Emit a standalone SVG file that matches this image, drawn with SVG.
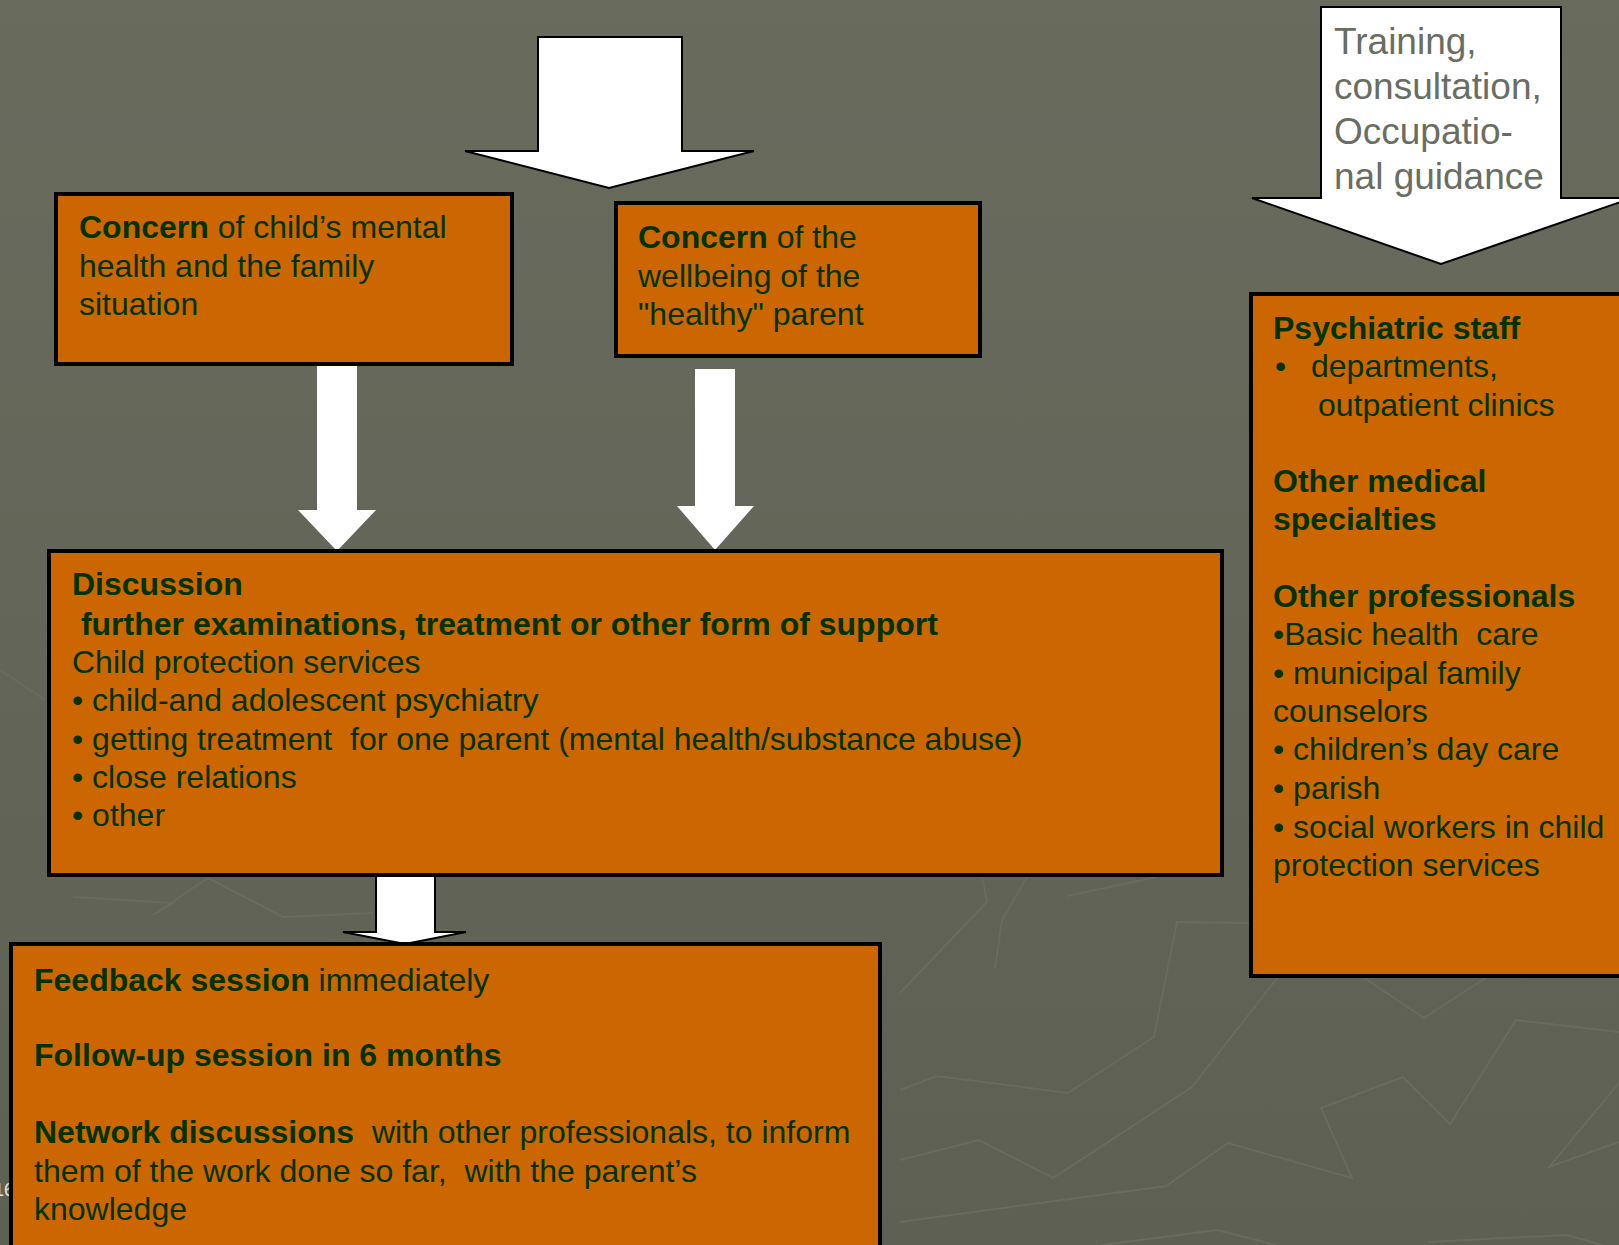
<svg xmlns="http://www.w3.org/2000/svg" width="1619" height="1245" viewBox="0 0 1619 1245">
<defs>
<linearGradient id="bg" x1="0" y1="0" x2="0" y2="1">
<stop offset="0" stop-color="#696b5d"/>
<stop offset="1" stop-color="#5d6053"/>
</linearGradient>
<style>
.box{fill:#cc6600;stroke:#000;stroke-width:4}
.t{font-family:"Liberation Sans",Arial,sans-serif;font-size:32px;fill:#003300;white-space:pre}
.b{font-weight:bold}
.arr{fill:#fff}
.arro{fill:#fff;stroke:#000;stroke-width:2;stroke-linejoin:miter}
.deco{fill:none;stroke:#686b5e;stroke-width:2}
.tr{font-family:"Liberation Sans",Arial,sans-serif;font-size:37px;fill:#6a6d62}
</style>
</defs>
<rect width="1619" height="1245" fill="url(#bg)"/>
<g id="background-lines">
<polyline class="deco" points="900,1222 1166,1186 1228,1143 1352,1178 1321,1108 1403,1077 1450,1124 1516,1020 1619,1032"/>
<polyline class="deco" points="900,1160 979,1140 1053,1178 1192,1087 1278,977"/>
<polyline class="deco" points="900,1090 937,1076 1068,1093 1154,1037 1177,922 1249,923"/>
<polyline class="deco" points="900,993 987,902 982,877"/>
<polyline class="deco" points="995,968 1002,920 1027,877"/>
<polyline class="deco" points="1067,896 1157,877"/>
<polyline class="deco" points="1363,977 1424,1018 1487,977"/>
<polyline class="deco" points="1619,1083 1549,1167 1619,1142"/>
<polyline class="deco" points="1102,1245 1217,1230 1276,1245"/>
<polyline class="deco" points="1428,1242 1567,1235 1619,1250"/>
<polyline class="deco" points="73,897 173,903 153,915 208,878 283,917 373,913"/>
<polyline class="deco" points="0,670 45,700"/>
</g>
<text x="-6" y="1196" font-family="Liberation Sans, Arial, sans-serif" font-size="18" fill="#e6e6df">16</text>
<g id="connectors">
<polygon id="arrow-top" class="arro" points="538,37 682,37 682,151 754,151 609,188 465,151 538,151"/>
<polygon id="arrow-box1" class="arr" points="317,362 357,362 357,510 376,510 337,551 298,510 317,510"/>
<polygon id="arrow-box2" class="arr" points="695,369 735,369 735,506 754,506 715,550 677,506 695,506"/>
<polygon id="arrow-discussion" class="arro" points="376,875 435,875 435,932 466,932 405,944 343,932 376,932"/>
</g>
<g id="node-training">
<polygon class="arro" points="1321,7 1561,7 1561,198 1632,198 1441,264 1252,198 1321,198"/>
<text class="tr" x="1334" y="54">Training,</text>
<text class="tr" x="1334" y="99">consultation,</text>
<text class="tr" x="1334" y="144">Occupatio-</text>
<text class="tr" x="1334" y="189">nal guidance</text>
</g>
<g id="node-concern-child">
<rect class="box" x="56" y="194" width="456" height="170"/>
<text class="t" x="79" y="238"><tspan class="b">Concern</tspan> of child’s mental</text>
<text class="t" x="79" y="277">health and the family</text>
<text class="t" x="79" y="315">situation</text>
</g>
<g id="node-concern-parent">
<rect class="box" x="616" y="203" width="364" height="153"/>
<text class="t" x="638" y="248"><tspan class="b">Concern</tspan> of the</text>
<text class="t" x="638" y="287">wellbeing of the</text>
<text class="t" x="638" y="325">"healthy" parent</text>
</g>
<g id="node-discussion">
<rect class="box" x="49" y="551" width="1173" height="324"/>
<text class="t b" x="72" y="595">Discussion</text>
<text class="t b" x="72" y="635"> further examinations, treatment or other form of support</text>
<text class="t" x="72" y="673">Child protection services</text>
<text class="t" x="72" y="711">• child-and adolescent psychiatry</text>
<text class="t" x="72" y="750">• getting treatment  for one parent (mental health/substance abuse)</text>
<text class="t" x="72" y="788">• close relations</text>
<text class="t" x="72" y="826">• other</text>
</g>
<g id="node-staff">
<rect class="box" x="1251" y="294" width="400" height="682"/>
<text class="t b" x="1273" y="339">Psychiatric staff</text>
<text class="t" x="1275" y="377">•</text>
<text class="t" x="1311" y="377">departments,</text>
<text class="t" x="1318" y="416">outpatient clinics</text>
<text class="t b" x="1273" y="492">Other medical</text>
<text class="t b" x="1273" y="530">specialties</text>
<text class="t b" x="1273" y="607">Other professionals</text>
<text class="t" x="1273" y="645">•Basic health  care</text>
<text class="t" x="1273" y="684">• municipal family</text>
<text class="t" x="1273" y="722">counselors</text>
<text class="t" x="1273" y="760">• children’s day care</text>
<text class="t" x="1273" y="799">• parish</text>
<text class="t" x="1273" y="838">• social workers in child</text>
<text class="t" x="1273" y="876">protection services</text>
</g>
<g id="node-feedback">
<rect class="box" x="11" y="944" width="869" height="320"/>
<text class="t" x="34" y="991"><tspan class="b">Feedback session</tspan> immediately</text>
<text class="t b" x="34" y="1066">Follow-up session in 6 months</text>
<text class="t" x="34" y="1143"><tspan class="b">Network discussions</tspan>  with other professionals, to inform</text>
<text class="t" x="34" y="1182">them of the work done so far,  with the parent’s</text>
<text class="t" x="34" y="1220">knowledge</text>
</g>
</svg>
